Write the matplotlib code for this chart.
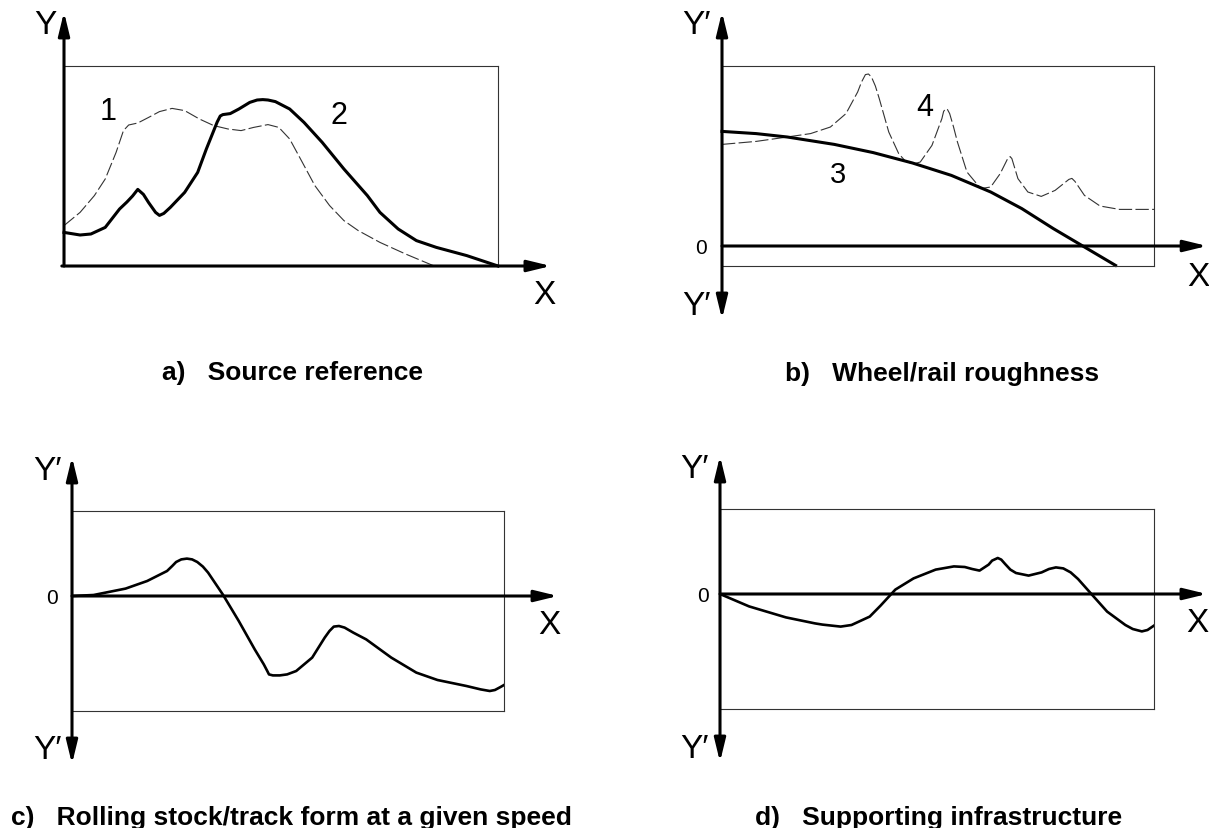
import matplotlib.pyplot as plt

# figure is 1209 x 829 px at dpi 100
W, H = 1209, 829

# --- a) source reference ---
a_x2 = [0, 0.37, 0.62, 0.95, 1.28, 1.45, 1.58, 1.70, 1.83, 1.95, 2.11, 2.20, 2.30, 2.45,
        2.78, 3.08, 3.28, 3.53, 3.60, 3.66, 3.83, 4.03, 4.28, 4.45, 4.58, 4.70, 4.87,
        5.20, 5.53, 5.95, 6.45, 6.99, 7.28, 7.70, 8.12, 8.58, 9.28, 10.0]
a_y2 = [1.68, 1.55, 1.60, 1.93, 2.85, 3.20, 3.50, 3.83, 3.58, 3.17, 2.68, 2.53, 2.63, 2.93,
        3.68, 4.68, 5.85, 7.20, 7.50, 7.57, 7.62, 7.85, 8.18, 8.30, 8.32, 8.30, 8.22,
        7.85, 7.18, 6.18, 4.85, 3.52, 2.68, 1.85, 1.27, 0.93, 0.52, 0.0]
a_x1 = [0, 0.37, 0.70, 0.95, 1.20, 1.37, 1.49, 1.70, 1.95, 2.20, 2.49, 2.78, 3.12, 3.45,
        3.78, 4.08, 4.37, 4.70, 4.95, 5.20, 5.45, 5.78, 6.12, 6.45, 6.78, 7.28, 7.87, 8.53]
a_y1 = [2.02, 2.68, 3.52, 4.35, 5.68, 6.77, 7.05, 7.15, 7.43, 7.72, 7.88, 7.77, 7.35, 7.02,
        6.85, 6.77, 6.93, 7.07, 6.93, 6.35, 5.35, 4.02, 3.02, 2.27, 1.77, 1.18, 0.60, 0.0]

# --- b) wheel/rail roughness ---
b_x3 = [0, 0.79, 1.51, 2.60, 3.50, 4.41, 5.31, 6.22, 6.94, 7.67, 8.39, 9.11]
b_y3 = [5.73, 5.62, 5.45, 5.08, 4.67, 4.15, 3.53, 2.70, 1.87, 0.87, -0.05, -0.97]
b_x4 = [0, 0.79, 1.51, 2.05, 2.51, 2.87, 3.14, 3.23, 3.32, 3.39, 3.46, 3.55, 3.64, 3.86,
        4.09, 4.23, 4.36, 4.48, 4.59, 4.86, 5.09, 5.13, 5.18, 5.22, 5.27, 5.36, 5.45,
        5.67, 5.99, 6.22, 6.44, 6.62, 6.67, 6.71, 6.85, 7.08, 7.39, 7.71, 8.03, 8.10,
        8.17, 8.39, 8.75, 9.20, 10.0]
b_y4 = [5.08, 5.23, 5.45, 5.62, 5.95, 6.62, 7.70, 8.20, 8.57, 8.60, 8.45, 8.00, 7.37, 5.70,
        4.62, 4.28, 4.15, 4.13, 4.20, 5.03, 6.37, 6.73, 6.87, 6.82, 6.62, 5.95, 5.20,
        3.70, 2.87, 2.95, 3.62, 4.40, 4.47, 4.37, 3.37, 2.70, 2.48, 2.78, 3.33, 3.38,
        3.23, 2.53, 2.00, 1.83, 1.83]

# --- c) rolling stock/track form ---
c_x = [0, 0.50, 1.24, 1.74, 2.20, 2.32, 2.41, 2.53, 2.66, 2.78, 2.90, 3.03, 3.15, 3.49,
       3.86, 4.23, 4.44, 4.52, 4.56, 4.65, 4.81, 4.98, 5.19, 5.56, 5.85, 5.96, 6.06, 6.18,
       6.31, 6.51, 6.81, 7.39, 7.97, 8.46, 9.13, 9.46, 9.67, 9.79, 9.92, 10.0]
c_y = [0, 0.05, 0.37, 0.75, 1.25, 1.50, 1.70, 1.83, 1.87, 1.83, 1.70, 1.47, 1.17, 0.08,
       -1.25, -2.67, -3.42, -3.75, -3.92, -3.97, -3.97, -3.92, -3.75, -3.08, -2.08, -1.75,
       -1.53, -1.50, -1.58, -1.83, -2.17, -3.08, -3.83, -4.20, -4.50, -4.67, -4.75, -4.70,
       -4.55, -4.45]

# --- d) supporting infrastructure ---
d_x = [0, 0.67, 1.52, 2.19, 2.36, 2.78, 3.03, 3.45, 3.70, 4.04, 4.46, 4.97, 5.13, 5.39,
       5.64, 5.81, 5.98, 6.19, 6.27, 6.40, 6.48, 6.57, 6.69, 6.82, 7.11, 7.41, 7.58, 7.74,
       7.91, 8.08, 8.25, 8.59, 8.92, 9.34, 9.51, 9.72, 9.85, 10.0]
d_y = [0, -0.62, -1.17, -1.47, -1.53, -1.63, -1.55, -1.13, -0.58, 0.22, 0.78, 1.22, 1.28,
       1.38, 1.35, 1.25, 1.17, 1.47, 1.67, 1.80, 1.72, 1.50, 1.22, 1.05, 0.92, 1.08, 1.25,
       1.33, 1.28, 1.08, 0.75, -0.08, -0.88, -1.55, -1.75, -1.87, -1.80, -1.58]

TITLES = ["a)   Source reference", "b)   Wheel/rail roughness",
          "c)   Rolling stock/track form at a given speed", "d)   Supporting infrastructure"]

LBL_FONT = ['Liberation Sans Narrow', 'Liberation Sans', 'DejaVu Sans']
TITLE_FONT = ['Liberation Sans', 'DejaVu Sans']

THICK = 2.2
HEAD = dict(mutation_scale=20, shrinkA=0, shrinkB=0, color='black', lw=THICK)


def make_axes(fig, box, ylim):
    # box = (left, top, right, bottom) in pixels
    l, t, r, b = box
    ax = fig.add_axes([l / W, 1 - b / H, (r - l) / W, (b - t) / H])
    ax.set_xlim(0, 10)
    ax.set_ylim(*ylim)
    ax.set_xticks([])
    ax.set_yticks([])
    for s in ax.spines.values():
        s.set_linewidth(0.8)
        s.set_color('#333333')
    ax.patch.set_alpha(0)
    return ax


def arrow(ax, start, end, style='-|>'):
    ax.annotate('', xy=end, xytext=start, annotation_clip=False,
                arrowprops=dict(arrowstyle=style + ',head_length=0.7,head_width=0.17', **HEAD))


def label(ax, x, y, s, size=24):
    ax.text(x, y, s, ha='center', va='center', fontsize=size, family=LBL_FONT,
            clip_on=False)


fig = plt.figure(figsize=(W / 100, H / 100), dpi=100)

# panel a
ax = make_axes(fig, (64, 67, 498, 267), (0, 10))
ax.plot(a_x1, a_y1, color='#333333', lw=0.8, dashes=(12, 3), solid_joinstyle='round')
ax.plot(a_x2, a_y2, color='black', lw=THICK, solid_joinstyle='round', clip_on=False)
arrow(ax, (0, 0), (0, 12.7))
arrow(ax, (-0.05, 0), (11.22, 0))
label(ax, -0.42, 12.05, 'Y')
label(ax, 11.06, -1.4, 'X')
label(ax, 1.01, 7.75, '1', 22)
label(ax, 6.34, 7.55, '2', 22)

# panel b
ax = make_axes(fig, (722, 67, 1154, 267), (-1, 9))
ax.plot(b_x4, b_y4, color='#333333', lw=0.8, dashes=(12, 3), solid_joinstyle='round')
ax.plot(b_x3, b_y3, color='black', lw=THICK, solid_joinstyle='round', clip_on=False)
arrow(ax, (0, -3.65), (0, 11.7), '<|-|>')
arrow(ax, (0, 0), (11.23, 0))
label(ax, -0.58, 11.05, 'Y′')
label(ax, -0.6, -2.98, 'Y′')
label(ax, -0.48, -0.1, '0', 15)
label(ax, 11.02, -1.5, 'X')
label(ax, 2.69, 3.6, '3', 21)
label(ax, 4.70, 6.95, '4', 22)

# panel c
ax = make_axes(fig, (72, 512, 504, 712), (-5.75, 4.25))
ax.plot(c_x, c_y, color='black', lw=1.9, solid_joinstyle='round')
arrow(ax, (0, -8.4), (0, 6.95), '<|-|>')
arrow(ax, (0, 0), (11.25, 0))
label(ax, -0.56, 6.25, 'Y′')
label(ax, -0.56, -7.7, 'Y′')
label(ax, -0.46, -0.05, '0', 15)
label(ax, 11.04, -1.45, 'X')

# panel d
ax = make_axes(fig, (720, 510, 1154, 710), (-5.75, 4.25))
ax.plot(d_x, d_y, color='black', lw=1.9, solid_joinstyle='round')
arrow(ax, (0, -8.4), (0, 6.9), '<|-|>')
arrow(ax, (0, 0), (11.22, 0))
label(ax, -0.6, 6.3, 'Y′')
label(ax, -0.6, -7.75, 'Y′')
label(ax, -0.39, -0.1, '0', 15)
label(ax, 11.0, -1.45, 'X')

# panel captions (left x, baseline y in pixels)
for (px, py), txt in zip([(162, 380), (785, 381), (11, 825), (755, 825)], TITLES):
    fig.text(px / W, 1 - py / H, txt, ha='left', va='baseline', fontsize=19,
             fontweight='bold', family=TITLE_FONT)

fig.savefig('out.png', dpi=100, facecolor='white')
